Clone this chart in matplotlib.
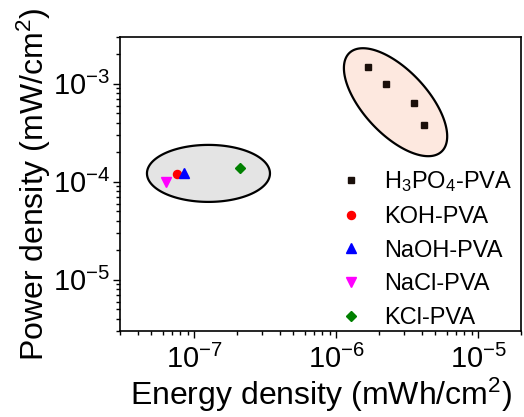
import numpy as np
import matplotlib
matplotlib.use('Agg')
import matplotlib.pyplot as plt

plt.rcParams['font.family'] = ['Liberation Sans', 'DejaVu Sans']
plt.rcParams['mathtext.fontset'] = 'custom'
plt.rcParams['mathtext.rm'] = 'Liberation Sans'
plt.rcParams['mathtext.it'] = 'Liberation Sans'
plt.rcParams['axes.unicode_minus'] = False

# data (energy density mWh/cm2, power density mW/cm2)
h3po4_e = [1.68e-6, 2.25e-6, 3.55e-6, 4.15e-6]
h3po4_p = [1.5e-3, 1.0e-3, 6.4e-4, 3.8e-4]
koh_e, koh_p = [7.55e-8], [1.21e-4]
naoh_e, naoh_p = [8.5e-8], [1.23e-4]
nacl_e, nacl_p = [6.35e-8], [1.0e-4]
kcl_e, kcl_p = [2.1e-7], [1.4e-4]

xlim = (3e-8, 2e-5)
ylim = (3e-6, 3e-3)

W, H = 524, 417
fig = plt.figure(figsize=(W / 100, H / 100), dpi=100)
ax = fig.add_axes([0.229, 0.206, 0.765, 0.705])
ax.set_xscale('log')
ax.set_yscale('log')
ax.set_xlim(*xlim)
ax.set_ylim(*ylim)

# pixels per decade, used to draw the ellipses round the groups
px_x = 0.765 * W / np.log10(xlim[1] / xlim[0])
px_y = 0.705 * H / np.log10(ylim[1] / ylim[0])


def ellipse(cx, cy, a, b, ang, fc):
    t = np.linspace(0, 2 * np.pi, 300)
    r = np.deg2rad(ang)
    u = a * np.cos(t) * np.cos(r) - b * np.sin(t) * np.sin(r)
    v = a * np.cos(t) * np.sin(r) + b * np.sin(t) * np.cos(r)
    xs = 10 ** (np.log10(cx) + u / px_x)
    ys = 10 ** (np.log10(cy) + v / px_y)
    ax.fill(xs, ys, facecolor=fc, edgecolor='black', lw=1.6, zorder=1)


ellipse(1.26e-7, 1.22e-4, 61.5, 28.5, 0, '#e4e4e4')
ellipse(2.62e-6, 6.5e-4, 67.5, 32, -47, '#fde8df')

ms = 5
ax.plot(h3po4_e, h3po4_p, 's', color='#1a0f0a', ms=ms, ls='none', zorder=3, label='H$_3$PO$_4$-PVA')
ax.plot(koh_e, koh_p, 'o', color='#ff0000', ms=ms + 0.8, ls='none', zorder=3, label='KOH-PVA')
ax.plot(naoh_e, naoh_p, '^', color='#0000ff', ms=ms + 1.5, ls='none', zorder=3, label='NaOH-PVA')
ax.plot(nacl_e, nacl_p, 'v', color='#ff00ff', ms=ms + 1.5, ls='none', zorder=3, label='NaCl-PVA')
ax.plot(kcl_e, kcl_p, 'D', color='#008000', ms=ms, ls='none', zorder=3, label='KCl-PVA')

ax.set_xlabel('Energy density (mWh/cm$^2$)', fontsize=23, labelpad=1)
ax.set_ylabel('Power density (mW/cm$^2$)', fontsize=23, labelpad=0)

ax.tick_params(which='major', direction='out', length=5, width=1, labelsize=21)
ax.tick_params(axis='x', which='major', pad=5)
ax.tick_params(axis='y', which='major', pad=2)
ax.tick_params(which='minor', direction='out', length=3, width=1)
ax.tick_params(top=False, right=False)
for s in ax.spines.values():
    s.set_linewidth(1.2)

leg = ax.legend(loc='lower right', bbox_to_anchor=(1.02, -0.05), frameon=False,
                fontsize=17, handletextpad=0.9, labelspacing=0.5,
                borderaxespad=0.3, handlelength=1.0)

fig.savefig('out.png', dpi=100)
